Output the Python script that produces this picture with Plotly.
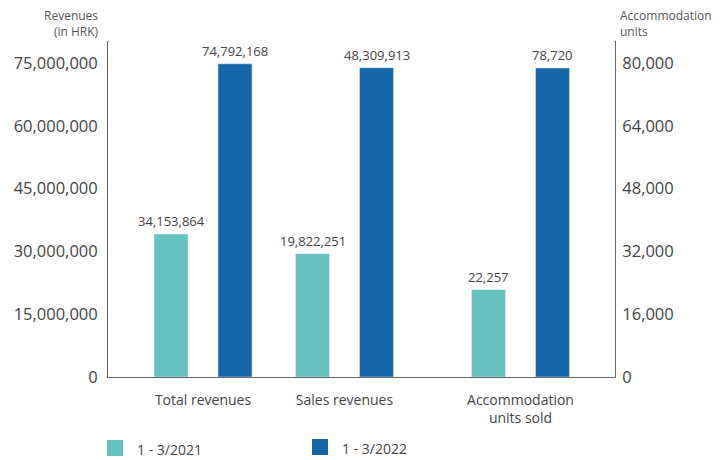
import plotly.graph_objects as go

# ---- data ----
categories = ["Total revenues", "Sales revenues", "Accommodation<br>units sold"]
series_names = ["1 - 3/2021", "1 - 3/2022"]
# revenues (HRK) as drawn on the left axis
revenues_2021 = [34153864, 29450000]
revenues_2022 = [74792168, 73880000]
# accommodation units on the right axis
units_2021 = [22257]
units_2022 = [78720]
# value labels shown above bars
labels_2021 = ["34,153,864", "19,822,251", "22,257"]
labels_2022 = ["74,792,168", "48,309,913", "78,720"]
left_ticks = [0, 15000000, 30000000, 45000000, 60000000, 75000000]
right_ticks = [0, 16000, 32000, 48000, 64000, 80000]

# ---- layout constants (page body has an 8px margin) ----
OFF = 8
W, H = 726 - OFF, 460 - OFF
ML, MR, MT, MB = 108 - OFF, 111, 41 - OFF, 83
PW, PH = W - ML - MR, H - MT - MB
centers = [95, 236.5, 412.5]
off = 32
bw = 34
c2021 = "#66c2bf"
c2022 = "#1565a9"
txt = "#444444"
font = "Open Sans"

fig = go.Figure()
rev_c = centers[:2]
acc_c = centers[2:]
fig.add_bar(x=[c - off for c in rev_c], y=revenues_2021, width=bw, marker_color=c2021,
            name=series_names[0], yaxis="y", showlegend=False)
fig.add_bar(x=[c + off for c in rev_c], y=revenues_2022, width=bw, marker_color=c2022,
            name=series_names[1], yaxis="y", showlegend=False)
fig.add_bar(x=[c - off for c in acc_c], y=units_2021, width=bw, marker_color=c2021,
            name=series_names[0], yaxis="y2", showlegend=False)
fig.add_bar(x=[c + off for c in acc_c], y=units_2022, width=bw, marker_color=c2022,
            name=series_names[1], yaxis="y2", showlegend=False)

ann = []
heights_2021 = revenues_2021 + units_2021
heights_2022 = revenues_2022 + units_2022
for i, c in enumerate(centers):
    yref = "y" if i < 2 else "y2"
    for dx, h, lab in [(-off, heights_2021[i], labels_2021[i]), (off, heights_2022[i], labels_2022[i])]:
        ann.append(dict(x=c + dx, y=h, xref="x", yref=yref, text=lab, showarrow=False,
                        yanchor="bottom", yshift=2, font=dict(size=13, color=txt, family=font)))

def px(xp):
    # screen pixel -> paper x
    return (xp - OFF - ML) / PW

def py(yp):
    # screen pixel -> paper y
    return (H - MB - (yp - OFF)) / PH

ann.append(dict(x=px(101), y=py(5), xref="paper", yref="paper", text="Revenues<br>(in HRK)",
                showarrow=False, xanchor="right", yanchor="top", align="right",
                font=dict(size=12, color="#555555", family=font)))
ann.append(dict(x=px(618), y=py(5), xref="paper", yref="paper", text="Accommodation<br>units",
                showarrow=False, xanchor="left", yanchor="top", align="left",
                font=dict(size=12, color="#555555", family=font)))

# manual legend
shapes = []
for (x0, y0, col, name) in [(107, 440, c2021, series_names[0]), (312, 439, c2022, series_names[1])]:
    shapes.append(dict(type="rect", xref="paper", yref="paper", x0=px(x0), x1=px(x0 + 16),
                       y0=py(y0 + 16), y1=py(y0), fillcolor=col, line=dict(width=0)))
    ann.append(dict(x=px(x0 + 28), y=py(y0 + 10), xref="paper", yref="paper", text=name,
                    showarrow=False, xanchor="left", yanchor="middle",
                    font=dict(size=14, color=txt, family=font)))

left_range = [0, 75000000 * PH / (PH - 22)]
right_range = [0, 80000 * PH / (PH - 22)]

fig.update_layout(
    width=W, height=H, margin=dict(l=ML, r=MR, t=MT, b=MB, autoexpand=False),
    paper_bgcolor="white", plot_bgcolor="white", barmode="overlay",
    font=dict(family=font, color=txt),
    xaxis=dict(range=[0, PW], tickvals=centers, ticktext=categories, showgrid=False,
               zeroline=False, showline=True, linecolor="#666666", linewidth=1,
               ticks="", ticklabelstandoff=10, tickfont=dict(size=14, color=txt, family=font),
               fixedrange=True, automargin=False),
    yaxis=dict(range=left_range, tickvals=left_ticks, tickformat=",d", showgrid=False,
               zeroline=False, showline=True, linecolor="#666666", linewidth=1, ticks="",
               ticklabelstandoff=6, tickfont=dict(size=16.5, color=txt, family=font),
               automargin=False),
    yaxis2=dict(range=right_range, tickvals=right_ticks, tickformat=",d", overlaying="y",
                side="right", showgrid=False, zeroline=False, showline=True,
                linecolor="#666666", linewidth=1, ticks="", ticklabelstandoff=3,
                tickfont=dict(size=16.5, color=txt, family=font), automargin=False),
    annotations=ann, shapes=shapes,
)

fig.write_html("out.html")
